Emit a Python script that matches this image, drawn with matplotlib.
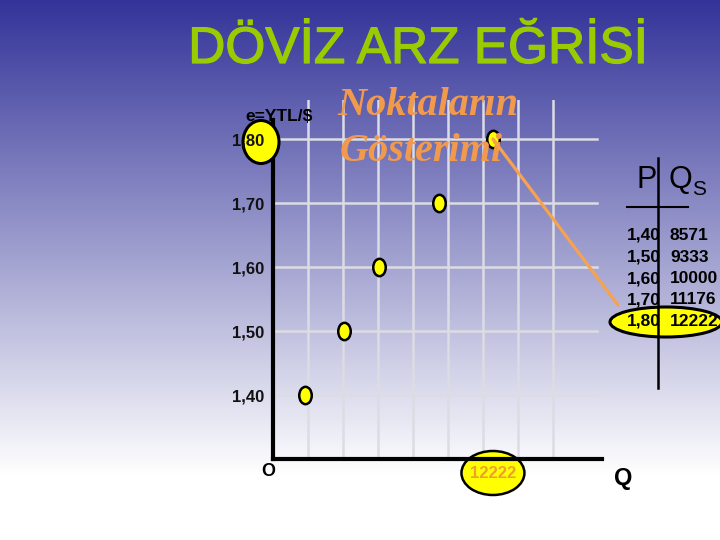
import matplotlib
matplotlib.use("Agg")
import matplotlib.pyplot as plt
import matplotlib.patheffects as pe
import numpy as np
from matplotlib.patches import Ellipse, ConnectionPatch
from matplotlib.path import Path
from matplotlib.transforms import Affine2D, blended_transform_factory

# data
prices = [1.40, 1.50, 1.60, 1.70, 1.80]          # e = YTL/$
quantities = [8571, 9333, 10000, 11176, 12222]   # Qs
title = "DÖVİZ ARZ EĞRİSİ"
note_lines = ["Noktaların", "Gösterimi"]

W, H = 720, 540
fig = plt.figure(figsize=(7.2, 5.4), dpi=100)


def px(x, y):
    # pixel position (from top-left) -> figure fraction
    return x / W, 1 - y / H


# background gradient, dark blue at the top fading to white
bg = fig.add_axes([0, 0, 1, 1], zorder=-5)
t = np.clip(np.linspace(0, 1, H) / 0.88, 0, 1)[:, None]
top = np.array([51, 51, 153]) / 255
grad = top + (1 - top) * t
bg.imshow(np.repeat(grad[:, None, :], 2, axis=1).reshape(H, 2, 3), aspect="auto",
          extent=(0, 1, 0, 1))
bg.axis("off")

fnt = "Liberation Sans"
ax = fig.add_axes([273 / W, 1 - 459 / H, 329 / W, 359 / H])
ax.set_facecolor("none")
ax.set_xlim(7950, 14340)
ax.set_ylim(1.30, 1.861)

# light grid, drawn by hand so it stays under the points
grid_c = "#dcdce4"
for k in range(1, 9):
    ax.axvline(7950 + 680 * k, color=grid_c, lw=1.8, zorder=1)
for p in prices:
    ax.axhline(p, xmax=0.985, color=grid_c, lw=1.8, zorder=1)

for s in ["top", "right"]:
    ax.spines[s].set_visible(False)
ax.spines["left"].set_linewidth(3)
ax.spines["bottom"].set_linewidth(3)
ax.spines["left"].set_bounds(1.30, 1.83)
ax.set_xticks([])
ax.set_yticks(prices)
ax.set_yticklabels([f"{p:.2f}".replace(".", ",") for p in prices],
                   fontfamily=fnt, fontweight="bold", fontsize=12, color="#111111")
ax.tick_params(axis="y", length=0, pad=6)
ax.yaxis.set_zorder(6)

# supply points as small yellow ovals
oval = Path.unit_circle().transformed(Affine2D().scale(0.72, 1.0))
ax.plot(quantities, prices, ls="none", marker=oval, ms=12.5, mfc="#ffff00",
        mec="black", mew=1.8, zorder=4)

# oval behind the 1,80 tick label (above the axis line, below the label)
ax.add_artist(Ellipse(px(261, 142), 36 / W, 43 / H, transform=fig.transFigure,
                      fc="#ffff00", ec="black", lw=2.2, zorder=5, clip_on=False))

# 12222 marked under the Q axis
bt = blended_transform_factory(ax.transData, fig.transFigure)
ax.add_artist(Ellipse((quantities[-1], 1 - 473 / H), 63 * 19.42, 44 / H, transform=bt,
                      fc="#ffff00", ec="black", lw=1.8, zorder=2, clip_on=False))
ax.text(quantities[-1], 1 - 474 / H, str(quantities[-1]), transform=bt, ha="center",
        va="center", fontfamily=fnt, fontweight="bold", fontsize=12,
        color="#f0a030", zorder=6, clip_on=False)

fig.text(*px(268, 471), "O", ha="center", va="center", fontfamily=fnt,
         fontweight="bold", fontsize=13)
fig.text(*px(623, 479), "Q", ha="center", va="center", fontfamily=fnt,
         fontweight="bold", fontsize=17)
fig.text(*px(245, 121), "e=YTL/$", ha="left", va="baseline", fontfamily=fnt,
         fontweight="bold", fontsize=12.5)

fig.text(*px(418, 63), title, ha="center", va="baseline", fontfamily=fnt,
         fontsize=37, color="#99cc00",
         path_effects=[pe.withStroke(linewidth=0.9, foreground="#99cc00")])

orange = "#f19a4c"
fig.text(*px(337, 115), note_lines[0], ha="left", va="baseline",
         fontfamily="Liberation Serif", fontstyle="italic", fontweight="bold",
         fontsize=29, color=orange, zorder=2)
fig.text(*px(340, 161), note_lines[1], ha="left", va="baseline",
         fontfamily="Liberation Serif", fontstyle="italic", fontweight="bold",
         fontsize=29, color=orange, zorder=2)

# small P / Qs table
fig.text(*px(647, 188), "P", ha="center", va="baseline", fontfamily=fnt, fontsize=22)
fig.text(*px(669, 188), "Q", ha="left", va="baseline", fontfamily=fnt, fontsize=22)
fig.text(*px(692, 195), "S", ha="left", va="baseline", fontfamily=fnt, fontsize=15)
fig.add_artist(Ellipse(px(666, 322), 112 / W, 30 / H, transform=fig.transFigure,
                       fc="#ffff00", ec="black", lw=2.2, zorder=2))
for i, (p, q) in enumerate(zip(prices, quantities)):
    yb = 240 + 21.5 * i
    fig.text(*px(661, yb), f"{p:.2f}".replace(".", ","), ha="right", va="baseline",
             fontfamily=fnt, fontweight="bold", fontsize=12.5, zorder=3)
    fig.text(*px(670, yb), str(q), ha="left", va="baseline",
             fontfamily=fnt, fontweight="bold", fontsize=12.5, zorder=3)
fig.add_artist(plt.Line2D([658 / W, 658 / W], [1 - 158 / H, 1 - 388 / H],
                          color="black", lw=1.8, zorder=4))
fig.add_artist(plt.Line2D([627 / W, 688 / W], [1 - 207 / H, 1 - 207 / H],
                          color="black", lw=1.5, zorder=4))

# line from the 1,80 point to the table row
con = ConnectionPatch(xyA=(quantities[-1], prices[-1]), coordsA=ax.transData,
                      xyB=px(618, 305), coordsB=fig.transFigure,
                      color="#f7a24f", lw=2.3, zorder=7)
fig.add_artist(con)

fig.savefig("out.png", dpi=100)
